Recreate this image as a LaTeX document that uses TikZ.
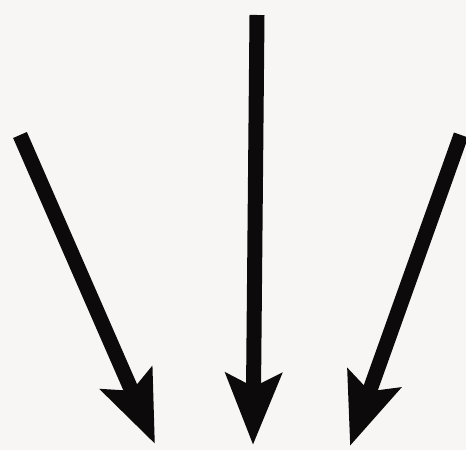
\documentclass[tikz,border=0pt]{standalone}
\usepackage{tikz}
\usetikzlibrary{arrows.meta}
\definecolor{paper}{RGB}{248,246,244}
\definecolor{ink}{RGB}{12,10,10}

\begin{document}
\begin{tikzpicture}[
  x=0.02cm,y=-0.02cm,
  arr/.style={-{Stealth[length=1.42cm,width=1.1cm,inset=0.26cm]},
              line width=0.3cm,ink}
]

\fill[paper] (0,0) rectangle (466,450);
\useasboundingbox (0,0) rectangle (466,450);

\coordinate (lefttop)  at (20,135);
\coordinate (leftend)  at (155,444);
\coordinate (midtop)   at (257,15);
\coordinate (midend)   at (253,445);
\coordinate (righttop) at (461,135);
\coordinate (rightend) at (350,446);

\foreach \u/\v in {lefttop/leftend,midtop/midend,righttop/rightend}
  {\draw[arr] (\u)--(\v);}

\end{tikzpicture}
\end{document}
